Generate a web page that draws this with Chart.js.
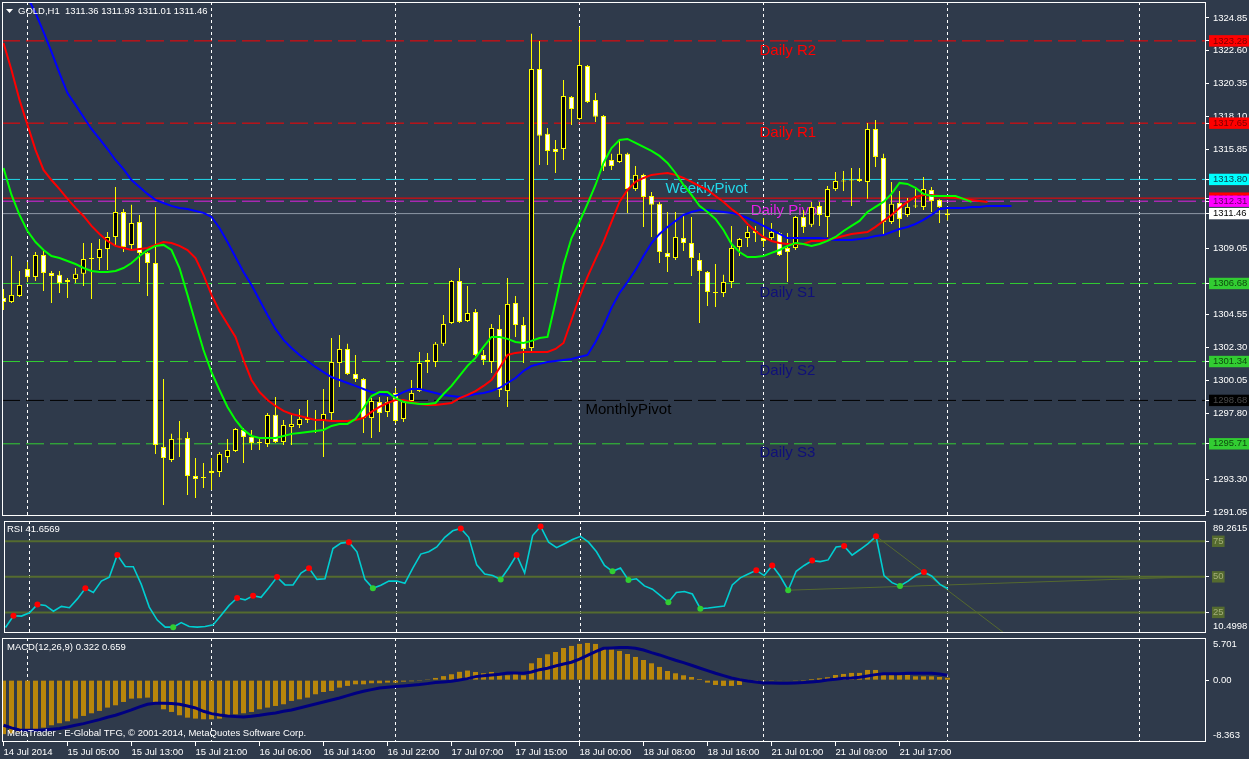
<!DOCTYPE html>
<html lang="en">

<head>
    <meta charset="UTF-8">
    <title>GOLD,H1</title>
    <script src="https://cdn.jsdelivr.net/npm/chart.js"></script>
    <style>
        body { margin: 0; background: #2f3a4b; }
        #wrap { position: relative; width: 1249px; height: 759px; overflow: hidden; background: #2f3a4b; }
        canvas { position: absolute; left: 0; }
    </style>
</head>

<body>
    <div id="wrap">
        <canvas id="priceChart" width="1249" height="518" style="top:0px"></canvas>
        <canvas id="rsiChart" width="1249" height="120" style="top:517px"></canvas>
        <canvas id="macdChart" width="1249" height="123" style="top:636px"></canvas>
    </div>
</body>
<script>
    // ---------- data ----------
    const symbol = "GOLD,H1";
    const timeLabels = ["14 Jul 2014", "15 Jul 05:00", "15 Jul 13:00", "15 Jul 21:00", "16 Jul 06:00",
        "16 Jul 14:00", "16 Jul 22:00", "17 Jul 07:00", "17 Jul 15:00", "18 Jul 00:00", "18 Jul 08:00",
        "18 Jul 16:00", "21 Jul 01:00", "21 Jul 09:00", "21 Jul 17:00"];
    const labelBars = [0, 8, 16, 24, 32, 40, 48, 56, 64, 72, 80, 88, 96, 104, 112];
    const gridBars = [3, 26, 49, 72, 95, 118, 142];

    const open = [1305.69, 1305.41, 1305.83, 1307.67, 1307.13, 1308.63, 1307.40, 1307.27, 1306.92, 1306.99,
        1307.34, 1308.42, 1308.42, 1309.04, 1309.86, 1311.57, 1309.32, 1310.89, 1308.76, 1308.08,
        1295.49, 1294.61, 1296.04, 1296.11, 1293.51, 1293.37, 1293.71, 1293.78, 1294.81, 1295.22,
        1296.66, 1296.18, 1295.77, 1295.70, 1297.69, 1295.84, 1296.86, 1297.00, 1297.48, 1297.34,
        1297.27, 1297.82, 1301.24, 1302.20, 1300.49, 1300.14, 1297.48, 1298.57, 1297.89, 1299.19,
        1297.41, 1298.64, 1299.32, 1301.45, 1301.31, 1302.55, 1303.98, 1306.85, 1304.11, 1304.73,
        1301.79, 1301.31, 1303.57, 1299.32, 1305.35, 1303.84, 1302.27, 1321.35, 1316.92, 1315.89,
        1315.89, 1319.44, 1317.93, 1321.56, 1319.24, 1318.14, 1315.13, 1315.00, 1315.55, 1313.14,
        1314.11, 1312.67, 1312.13, 1308.76, 1308.42, 1309.79, 1309.45, 1308.29, 1307.47, 1306.10,
        1306.03, 1306.78, 1309.18, 1309.79, 1310.27, 1309.79, 1309.79, 1310.13, 1309.11, 1309.11,
        1311.23, 1310.69, 1311.98, 1311.23, 1313.14, 1313.69, 1313.76, 1313.83, 1313.63, 1317.25,
        1315.27, 1310.89, 1312.19, 1311.37, 1311.98, 1311.92, 1313.08, 1312.40, 1311.36];
    const high = [1306.30, 1308.56, 1307.54, 1308.15, 1308.83, 1308.97, 1307.54, 1307.54, 1307.06, 1307.74,
        1309.45, 1309.45, 1309.72, 1310.20, 1313.28, 1311.78, 1312.06, 1311.37, 1308.83, 1311.92,
        1300.14, 1296.39, 1297.27, 1296.52, 1294.74, 1294.40, 1294.74, 1295.15, 1296.04, 1296.79,
        1296.79, 1296.66, 1296.11, 1297.82, 1298.91, 1297.34, 1297.69, 1298.09, 1298.71, 1298.03,
        1299.46, 1302.95, 1303.16, 1302.55, 1301.79, 1300.21, 1298.84, 1298.91, 1298.91, 1299.53,
        1298.78, 1300.08, 1301.99, 1301.93, 1302.68, 1304.53, 1306.92, 1307.74, 1306.51, 1304.94,
        1302.13, 1303.91, 1304.53, 1307.06, 1305.83, 1304.39, 1323.76, 1323.27, 1317.32, 1316.50,
        1320.61, 1319.50, 1324.23, 1321.63, 1319.71, 1318.21, 1315.55, 1316.57, 1315.62, 1314.72,
        1314.18, 1312.94, 1312.26, 1311.57, 1311.57, 1311.30, 1311.23, 1308.76, 1307.54, 1308.01,
        1307.27, 1310.62, 1309.79, 1310.62, 1310.62, 1311.16, 1310.82, 1310.20, 1310.13, 1311.30,
        1311.71, 1312.26, 1312.26, 1313.35, 1314.31, 1314.38, 1314.58, 1314.58, 1317.66, 1317.87,
        1315.55, 1313.63, 1313.01, 1312.53, 1313.14, 1313.97, 1313.28, 1312.45, 1311.93];
    const low = [1304.87, 1305.34, 1305.76, 1306.78, 1306.85, 1306.17, 1305.34, 1306.03, 1305.69, 1306.71,
        1306.51, 1305.62, 1307.61, 1307.61, 1309.32, 1308.83, 1308.97, 1306.78, 1305.83, 1295.02,
        1291.53, 1294.47, 1294.81, 1292.21, 1292.00, 1292.69, 1292.55, 1293.44, 1294.40, 1295.15,
        1294.40, 1295.29, 1295.29, 1295.49, 1295.77, 1295.63, 1295.63, 1296.79, 1297.13, 1296.45,
        1294.81, 1297.20, 1299.60, 1300.42, 1299.94, 1296.45, 1296.11, 1296.52, 1297.55, 1297.13,
        1297.20, 1298.50, 1299.25, 1300.55, 1300.97, 1302.41, 1303.91, 1303.98, 1304.05, 1301.72,
        1301.11, 1300.55, 1298.91, 1298.23, 1303.02, 1301.24, 1301.99, 1314.79, 1314.79, 1314.24,
        1315.13, 1317.53, 1317.87, 1319.03, 1317.73, 1314.38, 1314.45, 1314.93, 1311.51, 1313.01,
        1310.55, 1309.86, 1308.08, 1307.47, 1308.29, 1308.90, 1307.20, 1303.98, 1305.14, 1305.07,
        1305.76, 1306.37, 1308.56, 1309.18, 1309.52, 1309.18, 1309.66, 1308.56, 1306.78, 1308.97,
        1310.13, 1310.55, 1310.62, 1309.86, 1313.01, 1313.01, 1311.98, 1313.63, 1312.47, 1314.65,
        1310.00, 1310.75, 1309.86, 1311.23, 1311.85, 1311.71, 1311.57, 1310.82, 1311.01];
    const close = [1305.41, 1305.90, 1306.58, 1307.13, 1308.63, 1307.40, 1307.20, 1306.71, 1306.78, 1307.34,
        1308.35, 1308.35, 1309.04, 1309.86, 1311.57, 1309.18, 1310.82, 1308.76, 1308.08, 1295.63,
        1294.74, 1296.04, 1296.00, 1293.51, 1293.30, 1293.40, 1293.85, 1295.02, 1295.29, 1296.72,
        1296.18, 1295.77, 1295.80, 1297.68, 1295.84, 1297.00, 1297.07, 1297.41, 1297.34, 1297.36,
        1297.75, 1301.31, 1302.20, 1300.49, 1300.14, 1297.48, 1298.64, 1297.82, 1298.57, 1297.27,
        1298.64, 1299.19, 1301.24, 1301.31, 1302.55, 1303.91, 1306.85, 1304.05, 1304.66, 1301.79,
        1301.45, 1303.64, 1299.39, 1305.28, 1303.84, 1302.20, 1321.35, 1316.78, 1315.75, 1315.68,
        1319.51, 1318.62, 1321.63, 1319.10, 1318.08, 1314.66, 1314.72, 1315.55, 1313.14, 1314.11,
        1312.60, 1312.06, 1308.83, 1308.49, 1309.86, 1309.45, 1308.42, 1307.54, 1306.10, 1306.03,
        1306.78, 1309.11, 1309.72, 1310.20, 1310.13, 1309.59, 1310.20, 1308.63, 1308.83, 1311.23,
        1310.55, 1311.92, 1311.37, 1313.14, 1313.69, 1313.66, 1313.73, 1313.69, 1317.25, 1315.34,
        1310.89, 1312.13, 1311.10, 1311.92, 1311.95, 1313.14, 1312.33, 1311.92, 1311.46];

    // alligator lines (already shifted forward: jaw 8, teeth 5, lips 3 bars)
    const jaw = [1330.19, 1328.47, 1327.11, 1326.29, 1325.19, 1323.89, 1322.52, 1321.08, 1319.71, 1318.90,
        1318.07, 1317.25, 1316.57, 1315.88, 1315.13, 1314.51, 1313.76, 1313.28, 1312.81, 1312.40,
        1312.19, 1311.99, 1311.85, 1311.78, 1311.64, 1311.51, 1311.23, 1310.48, 1309.52, 1308.49,
        1307.47, 1306.58, 1305.55, 1304.53, 1303.57, 1302.82, 1302.27, 1301.79, 1301.38, 1300.97,
        1300.62, 1300.28, 1300.08, 1299.87, 1299.67, 1299.46, 1299.25, 1299.12, 1299.05, 1298.98,
        1299.25, 1299.46, 1299.46, 1299.32, 1299.18, 1299.05, 1298.98, 1298.91, 1298.98, 1299.12,
        1299.18, 1299.32, 1299.53, 1299.87, 1300.21, 1300.69, 1301.04, 1301.18, 1301.31, 1301.38,
        1301.45, 1301.52, 1301.65, 1301.79, 1302.68, 1303.77, 1305.01, 1306.03, 1306.78, 1307.61,
        1308.56, 1309.45, 1310.07, 1310.55, 1310.96, 1311.37, 1311.57, 1311.71, 1311.71, 1311.64,
        1311.57, 1311.51, 1311.37, 1311.16, 1310.89, 1310.62, 1310.34, 1310.07, 1309.79, 1309.79,
        1309.79, 1309.79, 1309.79, 1309.72, 1309.66, 1309.66, 1309.66, 1309.72, 1309.79, 1309.93,
        1310.00, 1310.20, 1310.41, 1310.55, 1310.75, 1311.03, 1311.37, 1311.78, 1311.85, 1311.85,
        1311.85, 1311.92, 1311.92, 1311.99, 1311.99, 1311.99, 1311.99];
    const teeth = [1323.13, 1321.29, 1319.24, 1317.53, 1315.82, 1314.45, 1313.76, 1313.14, 1312.47, 1311.85,
        1311.30, 1310.62, 1310.07, 1309.59, 1309.25, 1309.11, 1308.97, 1309.04, 1309.11, 1309.32,
        1309.52, 1309.45, 1309.25, 1308.97, 1308.42, 1307.27, 1305.90, 1304.80, 1303.91, 1303.02,
        1301.45, 1300.08, 1299.25, 1298.71, 1298.30, 1297.96, 1297.75, 1297.62, 1297.48, 1297.34,
        1297.34, 1297.27, 1297.27, 1297.27, 1297.34, 1297.48, 1297.89, 1298.23, 1298.50, 1298.71,
        1298.71, 1298.57, 1298.44, 1298.37, 1298.37, 1298.44, 1298.50, 1298.84, 1299.05, 1299.32,
        1299.67, 1300.08, 1300.90, 1301.79, 1301.93, 1301.99, 1301.99, 1301.99, 1301.99, 1302.20,
        1302.61, 1304.18, 1305.76, 1307.13, 1308.35, 1309.52, 1310.89, 1312.26, 1313.08, 1313.63,
        1313.90, 1314.11, 1314.18, 1314.24, 1314.11, 1313.90, 1313.63, 1313.35, 1313.08, 1312.67,
        1312.26, 1311.78, 1311.37, 1310.75, 1310.27, 1309.86, 1309.59, 1309.45, 1309.38, 1309.38,
        1309.38, 1309.59, 1309.59, 1309.66, 1309.79, 1309.93, 1310.07, 1310.13, 1310.20, 1310.55,
        1310.96, 1311.37, 1311.85, 1312.26, 1312.60, 1312.74, 1312.74, 1312.67, 1312.60, 1312.53,
        1312.47, 1312.40, 1312.33, 1312.26];
    const lips = [1314.58, 1312.74, 1311.37, 1310.27, 1309.52, 1308.97, 1308.56, 1308.42, 1308.22, 1308.01,
        1307.74, 1307.54, 1307.47, 1307.47, 1307.54, 1307.74, 1308.08, 1308.56, 1308.97, 1309.25,
        1309.32, 1308.97, 1307.74, 1305.90, 1303.98, 1302.13, 1300.62, 1299.39, 1298.23, 1297.34,
        1296.66, 1296.25, 1296.11, 1296.11, 1296.11, 1296.25, 1296.39, 1296.45, 1296.52, 1296.59,
        1296.66, 1296.93, 1297.07, 1297.07, 1297.41, 1298.16, 1298.98, 1299.25, 1299.25, 1298.84,
        1298.57, 1298.50, 1298.44, 1298.44, 1298.50, 1299.12, 1299.67, 1300.35, 1301.04, 1301.59,
        1302.34, 1303.02, 1303.02, 1302.89, 1302.68, 1302.61, 1302.75, 1302.95, 1303.02, 1305.41,
        1307.95, 1309.79, 1310.89, 1312.13, 1313.42, 1314.93, 1315.95, 1316.50, 1316.57, 1316.30,
        1316.02, 1315.75, 1315.41, 1314.93, 1314.24, 1313.42, 1312.74, 1311.99, 1311.57, 1311.10,
        1310.34, 1309.38, 1308.83, 1308.49, 1308.49, 1308.56, 1308.77, 1308.97, 1309.25, 1309.45,
        1309.38, 1309.25, 1309.38, 1309.59, 1309.86, 1310.27, 1310.62, 1310.96, 1311.57, 1311.92,
        1312.26, 1312.81, 1313.56, 1313.49, 1313.22, 1312.81, 1312.67, 1312.67, 1312.67, 1312.67,
        1312.47, 1312.26];

    const levelNames = ["Daily R2", "Daily R1", "WeeklyPivot", "Daily Pivot", "Daily S1", "Daily S2", "MonthlyPivot", "Daily S3"];
    const levelValues = [1323.28, 1317.65, 1313.80, 1312.31, 1306.68, 1301.34, 1298.68, 1295.71];
    const redLevel = 1312.52;
    const bidPrice = 1311.46;
    const priceTicks = [1324.85, 1322.60, 1320.35, 1318.10, 1315.85, 1309.05, 1304.55, 1302.30, 1300.05, 1297.80, 1293.30, 1291.05];

    const rsi = [14.4, 22.6, 22.4, 24.7, 30.6, 29.9, 25.8, 29.2, 28.3, 34.5,
        42.0, 39.0, 47.0, 49.8, 65.3, 57.3, 57.1, 44.7, 28.7, 19.6,
        14.6, 14.6, 17.8, 15.1, 14.6, 15.1, 16.2, 23.0, 29.9, 35.1,
        33.8, 36.7, 35.6, 42.5, 49.8, 44.3, 44.3, 52.7, 56.1, 48.2,
        48.6, 69.9, 73.7, 74.4, 67.6, 48.2, 42.0, 44.1, 47.0, 47.0,
        45.4, 56.2, 66.0, 67.6, 71.0, 77.8, 82.4, 84.0, 77.8, 58.4,
        52.0, 50.9, 48.2, 56.2, 65.3, 52.7, 79.0, 85.4, 74.4, 70.5,
        73.3, 76.2, 78.5, 74.4, 67.6, 58.0, 53.9, 56.2, 47.7, 48.6,
        43.6, 41.3, 36.7, 32.2, 39.0, 39.7, 37.9, 27.6, 28.1, 28.8,
        29.4, 44.3, 49.3, 52.0, 54.6, 50.9, 58.0, 50.4, 40.6, 53.9,
        58.0, 61.4, 60.7, 61.9, 71.0, 71.7, 65.3, 69.2, 73.3, 78.5,
        50.9, 45.9, 43.6, 47.0, 51.1, 53.4, 50.4, 44.7, 41.6569];
    const rsiPeaks = [1, 4, 10, 14, 29, 31, 34, 38, 43, 57, 64, 67, 94, 96, 101, 105, 109, 115];
    const rsiTroughs = [21, 46, 62, 76, 78, 83, 87, 98, 112];
    const rsiLevels = [25, 50, 75];
    const rsiRange = [10.4998, 89.2615];
    const rsiTrendDown = [[109, 78.6], [125, 10.6]];
    const rsiTrendUp = [[98, 40.6], [148.6, 50.0]];

    const macdMain = [-7.30, -7.20, -7.05, -6.85, -6.64, -6.42, -6.10, -5.83, -5.56, -5.20,
        -4.84, -4.48, -4.16, -3.71, -3.40, -2.95, -2.50, -2.45, -2.36, -2.95,
        -3.94, -4.30, -4.75, -5.07, -5.20, -5.29, -5.29, -5.20, -4.84, -4.62,
        -4.48, -4.30, -3.94, -3.71, -3.49, -3.26, -2.81, -2.59, -2.36, -1.91,
        -1.60, -1.46, -1.01, -0.78, -0.56, -0.56, -0.42, -0.42, -0.33, -0.33,
        -0.20, -0.15, -0.11, 0.03, 0.30, 0.55, 0.80, 1.13, 1.30, 1.11,
        0.93, 1.11, 0.66, 0.66, 0.93, 0.66, 2.28, 3.00, 3.50, 3.81,
        4.35, 4.63, 4.90, 5.03, 4.90, 4.26, 4.17, 3.95, 3.54, 3.14,
        2.73, 2.28, 1.79, 1.24, 0.93, 0.66, 0.43, 0.16, -0.33, -0.65,
        -0.78, -0.78, -0.65, -0.15, -0.12, -0.10, -0.10, -0.08, -0.06, -0.04,
        -0.02, 0.16, 0.25, 0.39, 0.70, 0.84, 0.98, 0.98, 1.38, 1.38,
        0.70, 0.70, 0.70, 0.70, 0.52, 0.52, 0.52, 0.43, 0.322];
    const macdSignal = [-6.10, -6.46, -6.73, -6.78, -6.78, -6.73, -6.64, -6.55, -6.33, -6.10,
        -5.88, -5.61, -5.34, -5.02, -4.75, -4.39, -4.03, -3.62, -3.26, -3.13,
        -3.13, -3.17, -3.26, -3.49, -3.76, -4.21, -4.53, -4.71, -4.84, -4.93,
        -4.98, -4.89, -4.75, -4.57, -4.44, -4.21, -4.03, -3.76, -3.49, -3.22,
        -2.95, -2.68, -2.41, -2.09, -1.78, -1.51, -1.28, -1.05, -0.96, -0.87,
        -0.78, -0.69, -0.60, -0.47, -0.33, -0.24, -0.15, 0.03, 0.21, 0.48,
        0.61, 0.70, 0.79, 0.97, 0.97, 0.93, 1.11, 1.42, 1.61, 1.92,
        2.19, 2.42, 2.85, 3.36, 3.86, 4.31, 4.35, 4.40, 4.40, 4.31,
        4.08, 3.72, 3.41, 3.05, 2.69, 2.37, 2.01, 1.65, 1.29, 0.93,
        0.61, 0.30, 0.07, -0.11, -0.24, -0.38, -0.38, -0.42, -0.42, -0.38,
        -0.33, -0.24, -0.15, 0.03, 0.12, 0.25, 0.30, 0.39, 0.57, 0.75,
        0.88, 0.88, 0.88, 0.93, 0.93, 0.93, 0.93, 0.84, 0.659];
    const macdRange = [-8.363, 5.701];

    // ---------- styles ----------
    const FONT = '"Liberation Sans", Arial, sans-serif';
    const SMALL = "9.5px " + FONT;
    const X_MIN = -0.1875, X_MAX = 150.3125;
    const levelLine = ["#ff0000", "#ff0000", "#20d8ea", "#e020e0", "#32cd32", "#32cd32", "#000000", "#32cd32"];
    const levelText = ["#ff0000", "#ff0000", "#22d8ea", "#e81ee8", "#10107a", "#10107a", "#000000", "#10107a"];
    const levelBox = ["#ff0000", "#ff0000", "#00ffff", "#ff00ff", "#32cd32", "#32cd32", "#000000", "#32cd32"];
    const levelBoxText = ["#7a0000", "#7a0000", "#0b4050", "#600060", "#0e4a0e", "#0e4a0e", "#4a4a4a", "#0e4a0e"];
    const levelTextAt = [94.5, 94.5, 82.75, 93.4, 94.5, 94.5, 72.75, 94.5];

    Chart.defaults.font.family = FONT;

    function pts(arr) { return arr.map((v, i) => ({ x: i, y: v })); }
    function hline(v, color, dash, width, order) {
        return {
            type: "line", data: [{ x: X_MIN, y: v }, { x: X_MAX, y: v }],
            borderColor: color, borderWidth: width, borderDash: dash, pointRadius: 0, order: order
        };
    }
    function txt(ctx, s, x, y, color, font, align, base) {
        ctx.save();
        ctx.font = font || SMALL;
        ctx.fillStyle = color || "#fff";
        ctx.textAlign = align || "left";
        ctx.textBaseline = base || "middle";
        ctx.fillText(s, x, y);
        ctx.restore();
    }
    function frame(chart) {
        const { ctx, chartArea: a } = chart;
        ctx.save();
        ctx.strokeStyle = "#ffffff";
        ctx.lineWidth = 1;
        ctx.strokeRect(a.left + 0.5, a.top + 0.5, a.right - a.left - 1, a.bottom - a.top - 1);
        ctx.restore();
    }
    // no auto padding: the panels must sit exactly like the terminal's
    function noPad(s) { s.paddingTop = 0; s.paddingBottom = 0; s.paddingLeft = 0; s.paddingRight = 0; }
    // hidden x axis that only carries the dotted vertical grid
    function gridAxis() {
        return {
            type: "linear", axis: "x", position: "bottom", min: X_MIN, max: X_MAX, offset: false,
            afterBuildTicks: (s) => { s.ticks = gridBars.map((v) => ({ value: v })); },
            afterFit: (s) => { s.height = 0; noPad(s); },
            ticks: { display: false },
            grid: { color: "#ffffff", lineWidth: 1, drawTicks: false, offset: false },
            border: { display: false, dash: [3, 3] }
        };
    }
    function yAxis(min, max, tickList, extra) {
        return Object.assign({
            type: "linear", position: "right", min: min, max: max,
            afterBuildTicks: (s) => { s.ticks = tickList.map((v) => ({ value: v })); },
            afterFit: (s) => { s.width = 43; noPad(s); },
            grid: { drawOnChartArea: false, drawTicks: true, tickLength: 3, tickColor: "#ffffff" },
            border: { display: false }
        }, extra);
    }
    const baseOptions = {
        responsive: false, animation: false, events: [],
        plugins: { legend: { display: false }, tooltip: { enabled: false } }
    };

    // ---------- price panel ----------
    const axisBoxValues = [levelValues[0], levelValues[1], levelValues[2], redLevel, levelValues[3], bidPrice,
        levelValues[4], levelValues[5], levelValues[6], levelValues[7]];
    const axisBoxBg = [levelBox[0], levelBox[1], levelBox[2], "#ff0000", levelBox[3], "#ffffff",
        levelBox[4], levelBox[5], levelBox[6], levelBox[7]];
    const axisBoxFg = [levelBoxText[0], levelBoxText[1], levelBoxText[2], "#7a0000", levelBoxText[3], "#000000",
        levelBoxText[4], levelBoxText[5], levelBoxText[6], levelBoxText[7]];
    const priceAxisTicks = priceTicks.concat(axisBoxValues);
    const nReg = priceTicks.length;
    const bull = close.map((c, i) => c >= open[i]);

    const priceDatasets = [
        { type: "line", data: pts(lips), borderColor: "#00ff00", borderWidth: 2, pointRadius: 0, order: 1 },
        { type: "line", data: pts(teeth), borderColor: "#ff0000", borderWidth: 2, pointRadius: 0, order: 2 },
        { type: "line", data: pts(jaw), borderColor: "#0000ff", borderWidth: 2, pointRadius: 0, order: 3 },
        {
            type: "bar", data: open.map((o, i) => ({ x: i, y: [o, close[i]] })),
            backgroundColor: bull.map((b) => (b ? "#000000" : "#ffffff")), borderColor: "#ffff00",
            borderWidth: 1, borderSkipped: false, barThickness: 5, grouped: false, minBarLength: 1,
            inflateAmount: 0, order: 4
        },
        {
            type: "bar", data: high.map((h, i) => ({ x: i, y: [low[i], h] })),
            backgroundColor: "#ffff00", barThickness: 1, grouped: false, inflateAmount: 0, order: 5
        },
        hline(bidPrice, "#8e98a6", [], 1, 6),
        hline(redLevel, "#ff0000", [], 1, 7)
    ];
    levelValues.forEach((v, k) => priceDatasets.push(hline(v, levelLine[k], [18, 6], 1, 8 + k)));

    new Chart(document.getElementById("priceChart"), {
        type: "bar",
        data: { datasets: priceDatasets },
        options: Object.assign({}, baseOptions, {
            layout: { padding: { left: 2, top: 2, right: 0, bottom: 2 } },
            scales: {
                x: { type: "linear", min: X_MIN, max: X_MAX, offset: false, display: false },
                g: gridAxis(),
                y: yAxis(1290.77, 1325.94, priceAxisTicks, {
                    ticks: {
                        autoSkip: false, padding: 4, font: { size: 9.5 },
                        callback: (v) => v.toFixed(2),
                        color: (c) => (c.index < nReg ? "#ffffff" : axisBoxFg[c.index - nReg]),
                        showLabelBackdrop: (c) => c.index >= nReg,
                        backdropColor: (c) => (c.index < nReg ? "rgba(0,0,0,0)" : axisBoxBg[c.index - nReg]),
                        backdropPadding: { left: 4, right: 8, top: 0, bottom: 0 }
                    }
                })
            }
        }),
        plugins: [{
            id: "priceText",
            beforeDatasetsDraw(chart) {
                const xs = chart.scales.x, ys = chart.scales.y;
                const ctx = chart.ctx;
                const a = chart.chartArea;
                ctx.save();
                ctx.beginPath();
                ctx.rect(a.left, a.top, a.right - a.left, a.bottom - a.top);
                ctx.clip();
                levelNames.forEach((name, k) => {
                    txt(ctx, name, xs.getPixelForValue(levelTextAt[k]), ys.getPixelForValue(levelValues[k]) + 2,
                        levelText[k], "15px " + FONT, "left", "top");
                });
                ctx.restore();
            },
            afterDraw(chart) {
                frame(chart);
                const ctx = chart.ctx;
                const n = close.length - 1;
                ctx.save();
                ctx.fillStyle = "#ffffff";
                ctx.beginPath();
                ctx.moveTo(6, 9); ctx.lineTo(13, 9); ctx.lineTo(9.5, 13); ctx.closePath();
                ctx.fill();
                ctx.restore();
                txt(ctx, symbol + "  " + [open[n], high[n], low[n], close[n]].map((v) => v.toFixed(2)).join(" "),
                    18, 11, "#ffffff");
            }
        }]
    });

    // ---------- RSI panel ----------
    const rsiDatasets = [
        {
            type: "line", data: rsiPeaks.map((i) => ({ x: i, y: rsi[i] })), showLine: false,
            pointRadius: 3, pointBackgroundColor: "#ff0000", pointBorderWidth: 0, order: 0
        },
        {
            type: "line", data: rsiTroughs.map((i) => ({ x: i, y: rsi[i] })), showLine: false,
            pointRadius: 3, pointBackgroundColor: "#32cd32", pointBorderWidth: 0, order: 0
        },
        { type: "line", data: pts(rsi), borderColor: "#00ced1", borderWidth: 1.6, pointRadius: 0, order: 1 },
        {
            type: "line", data: rsiTrendDown.map((p) => ({ x: p[0], y: p[1] })), borderColor: "#55692f",
            borderWidth: 1, pointRadius: 0, order: 2
        },
        {
            type: "line", data: rsiTrendUp.map((p) => ({ x: p[0], y: p[1] })), borderColor: "#55692f",
            borderWidth: 1, pointRadius: 0, order: 2
        }
    ];
    rsiLevels.forEach((v) => rsiDatasets.push(hline(v, "#556b2f", [], 2, 3)));

    new Chart(document.getElementById("rsiChart"), {
        type: "line",
        data: { datasets: rsiDatasets },
        options: Object.assign({}, baseOptions, {
            layout: { padding: { left: 2, top: 3, right: 0, bottom: 2 } },
            scales: {
                x: { type: "linear", min: X_MIN, max: X_MAX, offset: false, display: false },
                g: gridAxis(),
                y: yAxis(rsiRange[0], rsiRange[1], rsiLevels, {
                    ticks: {
                        autoSkip: false, padding: 4, font: { size: 9.5 }, color: "#a3ad78",
                        callback: (v) => String(v),
                        showLabelBackdrop: true, backdropColor: "#556b2f",
                        backdropPadding: { left: 1, right: 1, top: 0, bottom: 0 }
                    }
                })
            }
        }),
        plugins: [{
            id: "rsiText",
            afterDraw(chart) {
                frame(chart);
                const a = chart.chartArea;
                txt(chart.ctx, "RSI " + rsi[rsi.length - 1].toFixed(4), 7, a.top + 8);
                txt(chart.ctx, rsiRange[1].toFixed(4), a.right + 7, a.top + 7);
                txt(chart.ctx, rsiRange[0].toFixed(4), a.right + 7, a.bottom - 7);
            }
        }]
    });

    // ---------- MACD panel ----------
    new Chart(document.getElementById("macdChart"), {
        type: "bar",
        data: {
            datasets: [
                {
                    type: "line", data: pts(macdSignal), borderColor: "#000080", borderWidth: 3,
                    pointRadius: 0, order: 1
                },
                {
                    type: "bar", data: pts(macdMain), backgroundColor: "#b8860b", barThickness: 5,
                    grouped: false, inflateAmount: 0, order: 2
                }
            ]
        },
        options: Object.assign({}, baseOptions, {
            layout: { padding: { left: 2, top: 2, right: 0, bottom: 0 } },
            scales: {
                x: {
                    type: "linear", min: X_MIN, max: X_MAX, offset: false, position: "bottom",
                    afterBuildTicks: (s) => { s.ticks = labelBars.map((v) => ({ value: v })); },
                    afterFit: (s) => { s.height = 17; noPad(s); },
                    grid: { drawOnChartArea: false, drawTicks: true, tickLength: 4, tickColor: "#ffffff", offset: false },
                    border: { display: false },
                    ticks: {
                        autoSkip: false, maxRotation: 0, align: "start", padding: 1, color: "#ffffff",
                        font: { size: 9.5 }, callback: (v, i) => timeLabels[i]
                    }
                },
                g: gridAxis(),
                y: yAxis(macdRange[0], macdRange[1], [0], {
                    ticks: {
                        autoSkip: false, padding: 4, font: { size: 9.5 }, color: "#ffffff",
                        callback: (v) => v.toFixed(2)
                    }
                })
            }
        }),
        plugins: [{
            id: "macdText",
            afterDraw(chart) {
                frame(chart);
                const a = chart.chartArea;
                const n = macdMain.length - 1;
                txt(chart.ctx, "MACD(12,26,9) " + macdMain[n].toFixed(3) + " " + macdSignal[n].toFixed(3), 7, a.top + 9);
                txt(chart.ctx, "MetaTrader - E-Global TFG, \u00a9 2001-2014, MetaQuotes Software Corp.", 7, a.bottom - 9);
                txt(chart.ctx, macdRange[1].toFixed(3), a.right + 7, a.top + 6);
                txt(chart.ctx, macdRange[0].toFixed(3), a.right + 7, a.bottom - 7);
            }
        }]
    });
</script>

</html>
